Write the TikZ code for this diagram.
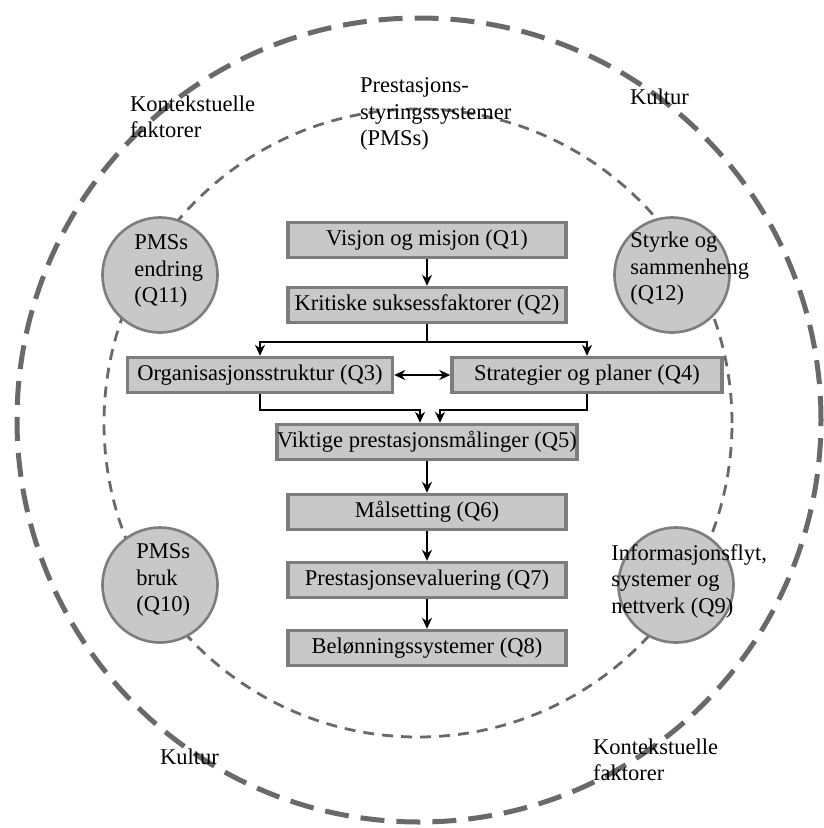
\documentclass[tikz,border=0pt]{standalone}
\usepackage{fontspec}
\setmainfont{Liberation Serif}
\usetikzlibrary{arrows.meta}
\definecolor{boksfyll}{RGB}{200,200,200}
\definecolor{boksramme}{RGB}{125,125,125}
\definecolor{stiplet}{RGB}{105,105,105}
\begin{document}
\begin{tikzpicture}[x=1pt, y=1pt,
    tekst/.style={font=\fontsize{22.5}{26.5}\selectfont, inner sep=0pt, align=left},
    boks/.style={draw=boksramme, fill=boksfyll, line width=3.4pt, minimum width=278pt,
        minimum height=35pt, inner sep=0pt, font=\fontsize{22.5}{26}\selectfont},
    sirkel/.style={circle, draw=boksramme, fill=boksfyll, line width=2.6pt,
        minimum size=115pt, inner sep=0pt},
    pil/.style={line width=2.2pt, -{Stealth[length=11pt, width=10pt]}}]
    \useasboundingbox (0,0) rectangle (824,-828);

    % Stiplede sirkler
    \draw[stiplet, line width=5pt, dash pattern=on 24pt off 12pt] (419,-420) circle (402);
    \draw[stiplet, line width=2.8pt, dash pattern=on 11pt off 8pt] (418,-423) circle (314);

    % Ytre tekster
    \node[tekst, anchor=west] (kontekst1) at (130,-117) {Kontekstuelle\\faktorer};
    \node[tekst, anchor=west] (pms) at (360,-114) {Prestasjons-\\styringssystemer\\(PMSs)};
    \node[tekst, anchor=west] (kultur1) at (630,-97) {Kultur};
    \node[tekst, anchor=west] (kultur2) at (160,-757) {Kultur};
    \node[tekst, anchor=west] (kontekst2) at (593,-760) {Kontekstuelle\\faktorer};

    % Sirkler
    \node[sirkel] (q11) at (160,-275) {};
    \node[sirkel] (q12) at (672,-275) {};
    \node[sirkel] (q10) at (160,-585) {};
    \node[sirkel] (q9) at (676,-585) {};
    \node[tekst, anchor=west] (t11) at ([xshift=33pt, yshift=4pt]q11.west) {PMSs\\endring\\(Q11)};
    \node[tekst, anchor=west] (t12) at ([xshift=17pt, yshift=6pt]q12.west) {Styrke og\\sammenheng\\(Q12)};
    \node[tekst, anchor=west] (t10) at ([xshift=35pt, yshift=5pt]q10.west) {PMSs\\bruk\\(Q10)};
    \node[tekst, anchor=west] (t9) at ([xshift=-6pt, yshift=4pt]q9.west) {Informasjonsflyt,\\systemer og\\nettverk (Q9)};

    % Bokser
    \node[boks] (q1) at (427,-240) {Visjon og misjon (Q1)};
    \node[boks] (q2) at (427,-305) {Kritiske suksessfaktorer (Q2)};
    \node[boks, minimum width=265pt] (q3) at (260,-375) {Organisasjonsstruktur (Q3)};
    \node[boks, minimum width=270pt] (q4) at (587,-375) {Strategier og planer (Q4)};
    \node[boks] (q5) at (427,-442) {Viktige prestasjonsmålinger (Q5)};
    \node[boks] (q6) at (427,-512) {Målsetting (Q6)};
    \node[boks] (q7) at (427,-580) {Prestasjonsevaluering (Q7)};
    \node[boks] (q8) at (427,-648) {Belønningssystemer (Q8)};

    % Piler
    \coordinate (gren) at (427,-342);
    \draw[pil] (q1) -- (q2);
    \draw[line width=2.2pt] (q2) -- (gren);
    \draw[pil] (gren) -| (q3);
    \draw[pil] (gren) -| (q4);
    \draw[pil, {Stealth[length=11pt, width=10pt]}-{Stealth[length=11pt, width=10pt]}] (q3) -- (q4);
    \draw[pil] (q3.south) -- ++(0,-16) -| ([xshift=-7pt]q5.north);
    \draw[pil] (q4.south) -- ++(0,-16) -| ([xshift=13pt]q5.north);
    \draw[pil] (q5) -- (q6);
    \draw[pil] (q6) -- (q7);
    \draw[pil] (q7) -- (q8);
\end{tikzpicture}
\end{document}
